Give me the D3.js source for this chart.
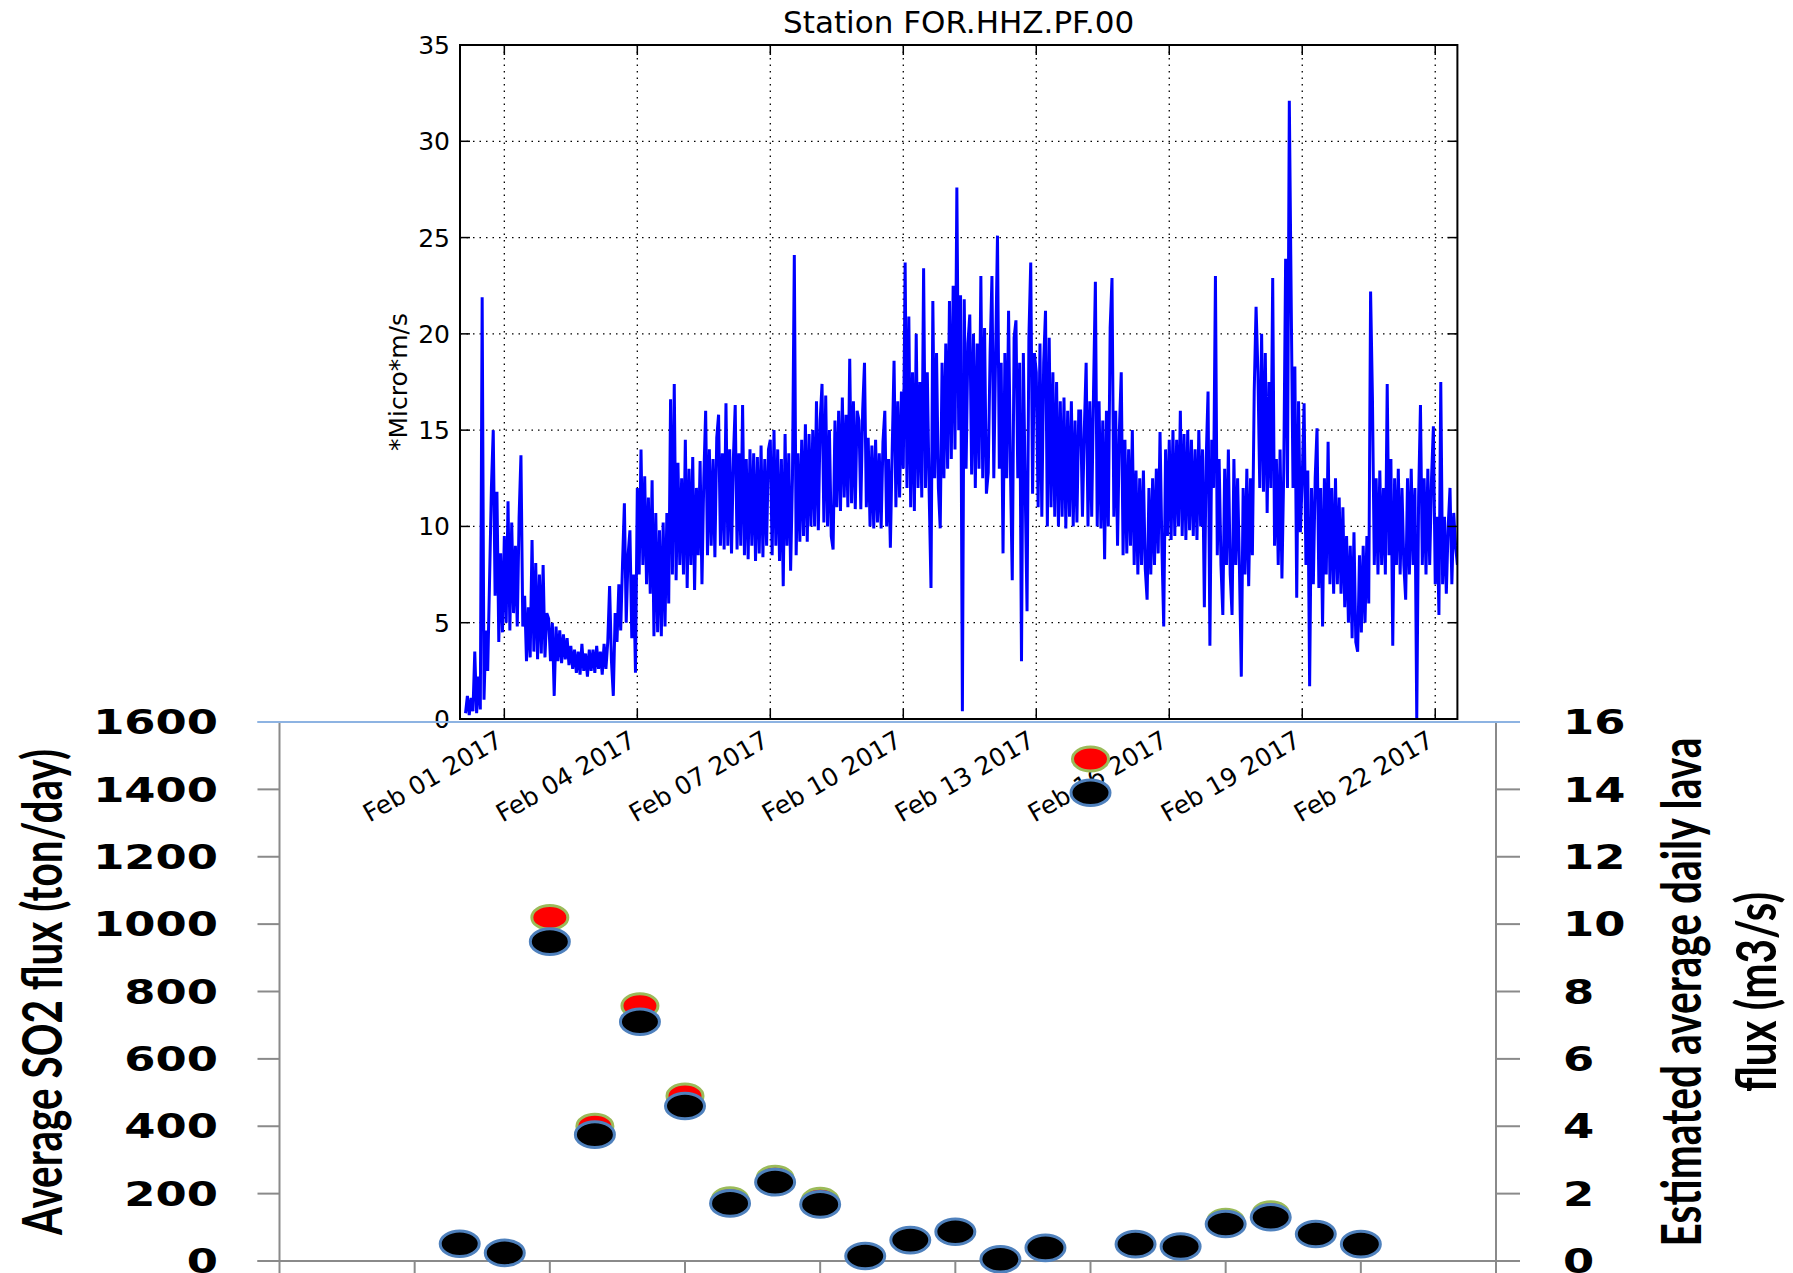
<!DOCTYPE html>
<html><head><meta charset="utf-8">
<script src="https://cdn.jsdelivr.net/npm/d3@7"></script>
<style>body{margin:0;background:#fff}svg{display:block}</style>
</head><body>
<svg id="chart" width="1793" height="1273"></svg>
<script>
// ---------------- DATA ----------------
// Tremor amplitude (*Micro*m/s), hourly readings starting 2017-01-31 03:00 UTC
const tremorStart = "2017-01-31T03:00:00Z";
const tremorJan31 = [0.3,1.2,0.2,1.1,0.4,3.5,0.3,2.2,0.5,21.9,1.0,4.6,2.5,7.2,12.0,15.0,6.4,11.8,4.0,8.6,4.5];
const tremorFeb01 = [9.5,5.0,11.3,4.6,10.2,5.5,9.0,4.8,10.5,13.7,4.8,6.4,3.0,5.8,3.2,9.3,3.5,8.1,3.1,7.5,3.4,8.0,3.2,5.5];
const tremorFeb02 = [5.2,3.0,5.0,1.2,4.8,3.0,4.6,2.9,4.4,3.1,4.2,2.8,3.8,2.6,3.6,2.4,3.5,2.3,3.9,2.5,3.4,2.2,3.6,2.5];
const tremorFeb03 = [3.6,2.4,3.8,2.6,3.5,2.3,3.9,2.6,4.0,6.9,3.0,1.2,5.5,4.0,7.0,4.6,8.1,11.2,5.0,8.5,9.8,4.2,7.5,2.4];
const tremorFeb04 = [12.0,7.5,14.0,8.0,12.6,7.0,11.5,6.5,12.4,4.3,10.7,4.5,9.8,4.3,10.2,4.8,10.7,6.0,16.6,7.5,17.4,7.2,13.3,8.0];
const tremorFeb05 = [12.5,7.5,14.5,6.8,13.0,8.0,13.6,6.7,12.0,8.5,13.4,7.0,12.5,16.0,8.5,14.0,9.0,13.5,8.4,14.6,15.8,9.0,13.8,8.8];
const tremorFeb06 = [16.4,9.0,14.0,8.6,13.5,16.3,8.8,13.8,9.0,16.3,8.5,13.5,8.3,14.0,9.0,13.8,8.2,13.6,8.6,14.2,8.4,13.5,9.0,14.0];
const tremorFeb07 = [14.5,8.5,15.0,9.0,14.0,8.2,13.5,6.9,14.8,9.0,13.8,7.7,12.5,24.1,8.5,13.8,9.2,14.5,9.5,15.3,9.2,14.8,10.0,15.0];
const tremorFeb08 = [10.0,16.5,9.8,15.5,17.4,10.2,16.8,10.0,15.0,9.5,8.8,15.5,11.0,16.0,10.8,16.7,11.5,15.8,11.0,18.7,11.2,16.5,10.9,16.0];
const tremorFeb09 = [15.5,10.9,16.0,18.5,11.0,14.6,10.0,14.2,9.9,14.5,10.2,13.8,9.9,14.4,16.0,10.0,13.5,8.9,14.0,18.6,11.0,16.5,11.5,17.0];
const tremorFeb10 = [13.0,23.7,12.0,20.9,11.0,18.0,10.8,20.0,12.0,17.5,11.5,23.4,12.0,18.0,11.8,6.8,21.7,12.5,19.0,12.0,9.9,18.5,12.5,19.5];
const tremorFeb11 = [13.0,21.7,13.5,22.5,14.0,27.6,15.0,22.0,0.4,21.8,13.0,19.5,21.0,12.7,20.0,12.0,19.5,13.0,23.0,12.5,20.3,11.7,12.8,19.0];
const tremorFeb12 = [23.0,12.5,19.0,25.1,13.0,18.5,8.6,19.0,12.5,21.2,13.0,7.2,19.8,20.7,12.5,18.5,3.0,19.0,12.0,5.6,19.8,23.7,11.7,19.0];
const tremorFeb13 = [18.0,11.0,19.5,10.5,18.5,21.2,10.0,19.8,11.0,18.0,10.5,17.5,10.0,16.5,10.5,16.7,9.9,16.0,10.5,16.5,10.0,15.5,10.2,16.0];
const tremorFeb14 = [16.0,10.5,15.0,18.5,10.0,16.5,10.5,17.0,22.7,10.0,16.5,9.9,15.5,8.3,16.0,10.0,20.3,22.9,10.5,16.0,9.0,15.0,18.0,8.5];
const tremorFeb15 = [14.5,8.6,14.0,9.0,15.0,8.0,12.9,7.5,12.5,8.0,12.9,7.8,6.2,12.0,7.5,12.5,8.0,13.0,8.6,14.9,9.0,4.8,14.0,9.5];
const tremorFeb16 = [14.5,9.3,15.0,9.5,14.5,10.0,16.0,9.5,14.8,9.3,15.0,9.8,14.5,9.5,14.0,9.3,15.0,10.0,14.0,5.8,13.5,17.0,3.8,14.5];
const tremorFeb17 = [12.0,23.0,8.5,13.5,8.0,5.4,13.0,8.0,14.0,7.5,5.4,13.5,8.0,12.5,7.8,2.2,12.0,7.5,13.0,6.9,12.5,8.5,17.0,21.4];
const tremorFeb18 = [18.0,12.0,20.0,11.8,19.0,10.7,17.5,12.0,22.9,9.0,13.5,8.0,14.0,7.3,13.0,23.9,12.0,32.1,21.9,12.0,18.3,6.3,16.5,9.7];
const tremorFeb19 = [12.5,16.4,8.0,12.9,1.7,12.0,7.0,12.5,15.1,6.8,12.0,4.8,12.5,7.5,14.4,7.0,12.0,6.5,12.5,7.0,11.5,6.5,11.0,5.8];
const tremorFeb20 = [9.5,5.0,9.0,4.2,9.7,4.0,3.5,8.5,4.5,9.0,5.0,9.5,6.0,22.2,16.7,8.0,12.5,7.5,12.9,8.0,12.0,7.5,17.4,8.5];
const tremorFeb21 = [13.5,3.8,12.5,8.0,13.0,7.5,12.0,8.0,6.2,12.5,7.5,13.0,8.0,12.0,0.0,11.5,16.3,8.0,12.5,7.5,13.0,8.0,12.5,15.2];
const tremorFeb22 = [7.0,10.5,5.4,17.5,7.0,10.5,6.5,10.0,12.0,7.0,10.7,9.0,8.0];

const topTickDates  = ["2017-02-01","2017-02-04","2017-02-07","2017-02-10","2017-02-13","2017-02-16","2017-02-19","2017-02-22"];
const topTickLabels = ["Feb 01 2017","Feb 04 2017","Feb 07 2017","Feb 10 2017","Feb 13 2017","Feb 16 2017","Feb 19 2017","Feb 22 2017"];
const topYTicks = [0,5,10,15,20,25,30,35];

// Daily SO2 flux (ton/day); right axis = lava flux (m3/s) on a 1:100 scale
const fluxDates = ["2017-01-31","2017-02-01","2017-02-02","2017-02-03","2017-02-04","2017-02-05","2017-02-06",
  "2017-02-07","2017-02-08","2017-02-09","2017-02-10","2017-02-11","2017-02-12","2017-02-13","2017-02-14",
  "2017-02-15","2017-02-16","2017-02-17","2017-02-18","2017-02-19","2017-02-20"];
const so2FluxRed   = [51,24,1020,400,758,490,182,246,180,15,62,87,5,39,1490,50,43,118,140,80,50];
const so2FluxBlack = [51,24,948,375,710,460,171,234,168,15,62,87,5,39,1390,50,43,110,130,80,50];
const so2Ticks  = [0,200,400,600,800,1000,1200,1400,1600];
const lavaTicks = [0,2,4,6,8,10,12,14,16];
const bottomTickDates = ["2017-01-27","2017-01-30","2017-02-02","2017-02-05","2017-02-08","2017-02-11",
  "2017-02-14","2017-02-17","2017-02-20","2017-02-23"];

// ---------------- DRAW ----------------
const tremorValues = [].concat(tremorJan31,tremorFeb01,tremorFeb02,tremorFeb03,tremorFeb04,tremorFeb05,
  tremorFeb06,tremorFeb07,tremorFeb08,tremorFeb09,tremorFeb10,tremorFeb11,tremorFeb12,tremorFeb13,
  tremorFeb14,tremorFeb15,tremorFeb16,tremorFeb17,tremorFeb18,tremorFeb19,tremorFeb20,tremorFeb21,tremorFeb22);
const t0 = +new Date(tremorStart);
const tremor = tremorValues.map((v,i)=>({date:new Date(t0 + i*3600e3), v}));

const svg = d3.select("#chart");
svg.append("rect").attr("width",1793).attr("height",1273).attr("fill","#fff");

const T = {left:460, right:1457.4, top:45, bottom:719};
const xT = d3.scaleUtc().domain([new Date("2017-01-31T00:00:00Z"), new Date("2017-02-22T12:00:00Z")]).range([T.left, T.right]);
const yT = d3.scaleLinear().domain([0,35]).range([T.bottom, T.top]);
const topFont = "'DejaVu Sans', sans-serif";

svg.append("clipPath").attr("id","clipTop").append("rect")
  .attr("x",T.left).attr("y",T.top).attr("width",T.right-T.left).attr("height",T.bottom-T.top);

const gT = svg.append("g");
// grid
gT.selectAll(".hg").data(topYTicks.filter(d=>d>0 && d<35)).join("line")
  .attr("x1",T.left).attr("x2",T.right).attr("y1",d=>yT(d)).attr("y2",d=>yT(d))
  .attr("stroke","#000").attr("stroke-width",1.3).attr("stroke-dasharray","1.5,5");
gT.selectAll(".vg").data(topTickDates).join("line")
  .attr("x1",d=>xT(new Date(d+"T00:00:00Z"))).attr("x2",d=>xT(new Date(d+"T00:00:00Z")))
  .attr("y1",T.top).attr("y2",T.bottom)
  .attr("stroke","#000").attr("stroke-width",1.3).attr("stroke-dasharray","1.5,5");

// tremor line
gT.append("path").datum(tremor).attr("clip-path","url(#clipTop)")
  .attr("fill","none").attr("stroke","#0000ff").attr("stroke-width",3).attr("stroke-linejoin","miter")
  .attr("d", d3.line().x(d=>xT(d.date)).y(d=>yT(d.v)));

// ticks (inward, all sides)
const tl = 10;
topYTicks.forEach(v=>{
  gT.append("line").attr("x1",T.left).attr("x2",T.left+tl).attr("y1",yT(v)).attr("y2",yT(v)).attr("stroke","#000").attr("stroke-width",1.5);
  gT.append("line").attr("x1",T.right).attr("x2",T.right-tl).attr("y1",yT(v)).attr("y2",yT(v)).attr("stroke","#000").attr("stroke-width",1.5);
});
topTickDates.forEach(d=>{
  const x = xT(new Date(d+"T00:00:00Z"));
  gT.append("line").attr("x1",x).attr("x2",x).attr("y1",T.bottom).attr("y2",T.bottom-tl).attr("stroke","#000").attr("stroke-width",1.5);
  gT.append("line").attr("x1",x).attr("x2",x).attr("y1",T.top).attr("y2",T.top+tl).attr("stroke","#000").attr("stroke-width",1.5);
});
// frame
gT.append("rect").attr("x",T.left).attr("y",T.top).attr("width",T.right-T.left).attr("height",T.bottom-T.top)
  .attr("fill","none").attr("stroke","#000").attr("stroke-width",2);

// y tick labels
gT.selectAll(".ytl").data(topYTicks).join("text")
  .attr("x",T.left-10).attr("y",d=>yT(d)).attr("dy","0.36em").attr("text-anchor","end")
  .attr("font-family",topFont).attr("font-size",25).attr("fill","#000").text(d=>d);
// x tick labels (rotated 30)
gT.selectAll(".xtl").data(topTickDates).join("text")
  .attr("transform",(d)=>`translate(${xT(new Date(d+"T00:00:00Z"))},${T.bottom+26}) rotate(-30)`)
  .attr("text-anchor","end").attr("font-family",topFont).attr("font-size",25).attr("fill","#000")
  .text((d,i)=>topTickLabels[i]);
// title and y label
gT.append("text").attr("x",(T.left+T.right)/2).attr("y",33).attr("text-anchor","middle")
  .attr("font-family",topFont).attr("font-size",31).attr("fill","#000").text("Station FOR.HHZ.PF.00");
gT.append("text").attr("transform",`translate(407,${(T.top+T.bottom)/2}) rotate(-90)`).attr("text-anchor","middle")
  .attr("font-family",topFont).attr("font-size",25).attr("fill","#000").text("*Micro*m/s");

// ---------------- BOTTOM CHART ----------------
const B = {left:279.5, right:1496, top:722, bottom:1261};
const xB = d3.scaleUtc().domain([new Date("2017-01-27T00:00:00Z"), new Date("2017-02-23T00:00:00Z")]).range([B.left, B.right]);
const yB = d3.scaleLinear().domain([0,1600]).range([B.bottom, B.top]);
const yB2 = d3.scaleLinear().domain([0,16]).range([B.bottom, B.top]);
const gB = svg.append("g");
const axCol = "#8a8a8a";

// left axis
gB.append("line").attr("x1",B.left).attr("x2",B.left).attr("y1",B.top).attr("y2",B.bottom).attr("stroke",axCol).attr("stroke-width",2);
gB.selectAll(".lt").data(so2Ticks).join("line")
  .attr("x1",B.left-22).attr("x2",B.left).attr("y1",d=>yB(d)).attr("y2",d=>yB(d))
  .attr("stroke",d=>d===1600?"#8db3e2":axCol).attr("stroke-width",2);
// right axis
gB.append("line").attr("x1",B.right).attr("x2",B.right).attr("y1",B.top).attr("y2",B.bottom).attr("stroke",axCol).attr("stroke-width",2);
gB.selectAll(".rt").data(lavaTicks).join("line")
  .attr("x1",B.right).attr("x2",B.right+24).attr("y1",d=>yB2(d)).attr("y2",d=>yB2(d))
  .attr("stroke",d=>d===16?"#8db3e2":axCol).attr("stroke-width",2);
// bottom axis
gB.append("line").attr("x1",B.left-22).attr("x2",B.right+24).attr("y1",B.bottom).attr("y2",B.bottom).attr("stroke",axCol).attr("stroke-width",2);
gB.selectAll(".bt").data(bottomTickDates).join("line")
  .attr("x1",d=>xB(new Date(d+"T00:00:00Z"))).attr("x2",d=>xB(new Date(d+"T00:00:00Z")))
  .attr("y1",B.bottom).attr("y2",B.bottom+16).attr("stroke",axCol).attr("stroke-width",2);
// top border (light blue)
gB.append("line").attr("x1",B.left-22).attr("x2",B.right+24).attr("y1",B.top).attr("y2",B.top).attr("stroke","#8db3e2").attr("stroke-width",2.2);

// tick labels
const boldFont = "'DejaVu Sans', Verdana, sans-serif";
gB.selectAll(".ll").data(so2Ticks).join("text")
  .attr("transform",d=>`translate(218,${yB(d)}) scale(1.32,1)`)
  .attr("dy","0.36em").attr("text-anchor","end").attr("font-family",boldFont).attr("font-weight","bold")
  .attr("font-size",34).attr("fill","#000").text(d=>d);
gB.selectAll(".rl").data(lavaTicks).join("text")
  .attr("transform",d=>`translate(1563,${yB2(d)}) scale(1.32,1)`)
  .attr("dy","0.36em").attr("text-anchor","start").attr("font-family",boldFont).attr("font-weight","bold")
  .attr("font-size",34).attr("fill","#000").text(d=>d);

// axis titles (condensed)
const titleFont = "Lato, 'Open Sans', sans-serif";
function vtitle(x, y, len, txt){
  gB.append("text").attr("transform",`translate(${x},${y}) rotate(-90)`).attr("text-anchor","middle")
    .attr("font-family",titleFont).attr("font-weight","bold").attr("font-size",56).attr("fill","#000")
    .attr("textLength",len).attr("lengthAdjust","spacingAndGlyphs").text(txt);
}
vtitle(62, 992, 486, "Average SO2 flux (ton/day)");
vtitle(1701, 992, 509, "Estimated average daily lava");
vtitle(1776, 992, 200, "flux (m3/s)");

// dots
const flux = fluxDates.map((d,i)=>({date:new Date(d+"T00:00:00Z"), red:so2FluxRed[i], black:so2FluxBlack[i]}));
gB.selectAll(".red").data(flux).join("ellipse")
  .attr("cx",d=>xB(d.date)).attr("cy",d=>yB(d.red)).attr("rx",18).attr("ry",12)
  .attr("fill","#ff0000").attr("stroke","#9bbb59").attr("stroke-width",3);
gB.selectAll(".blk").data(flux).join("ellipse")
  .attr("cx",d=>xB(d.date)).attr("cy",d=>yB(d.black)).attr("rx",19.5).attr("ry",12.8)
  .attr("fill","#000").attr("stroke","#4f81bd").attr("stroke-width",3);
</script>
</body></html>
